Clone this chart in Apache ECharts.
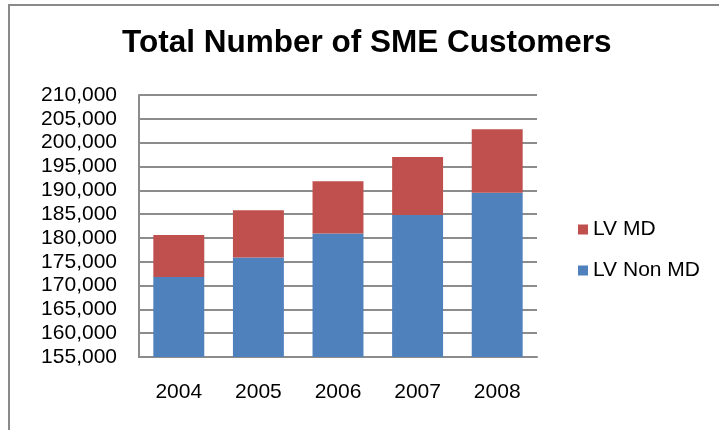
<!DOCTYPE html>
<html>
<head>
<meta charset="utf-8">
<script src="https://cdn.jsdelivr.net/npm/echarts@6/dist/echarts.min.js"></script>
<style>
  html, body { margin: 0; padding: 0; background: #ffffff; }
  #chart { width: 719px; height: 430px; }
</style>
</head>
<body>
<div id="chart"></div>
<script>
// Customer counts per year, split into the two low-voltage groups
const years = ['2004', '2005', '2006', '2007', '2008'];
const lvNonMd = [171800, 175900, 180900, 184800, 189500];
const lvMd = [8800, 9900, 11000, 12200, 13300];

// Value axis range
const yMin = 155000;
const yMax = 210000;
const yStep = 5000;

const FONT = '"Liberation Sans", Arial, sans-serif';
const LINE_GREY = '#8c8c8c';
const chart = echarts.init(document.getElementById('chart'), null, { renderer: 'canvas' });

chart.setOption({
  backgroundColor: '#ffffff',
  animation: false,
  title: {
    text: 'Total Number of SME Customers',
    left: 122,
    top: 28,
    padding: 0,
    textStyle: { fontFamily: FONT, fontSize: 31.5, fontWeight: 'bold', color: '#000000', lineHeight: 31 }
  },
  graphic: [{
    type: 'rect',
    shape: { x: 9, y: 5, width: 800, height: 500 },
    style: { fill: 'none', stroke: '#8a8a8a', lineWidth: 2 },
    silent: true
  }],
  legend: {
    orient: 'vertical',
    left: 578,
    top: 219,
    padding: 0,
    itemWidth: 10,
    itemHeight: 10,
    itemGap: 20,
    icon: 'rect',
    data: ['LV MD', 'LV Non MD'],
    textStyle: { fontFamily: FONT, fontSize: 21, color: '#000000', lineHeight: 21 }
  },
  grid: { left: 139, right: 182, top: 95, bottom: 73, containLabel: false },
  xAxis: {
    type: 'category',
    data: years,
    axisLine: { lineStyle: { color: LINE_GREY, width: 2 } },
    axisTick: { show: false },
    axisLabel: { fontFamily: FONT, fontSize: 21, color: '#000000', margin: 25, lineHeight: 21 }
  },
  yAxis: {
    type: 'value',
    min: yMin,
    max: yMax,
    interval: yStep,
    axisLine: { show: true, lineStyle: { color: LINE_GREY, width: 2 } },
    axisTick: { show: false },
    splitLine: { lineStyle: { color: LINE_GREY, width: 2 } },
    axisLabel: {
      fontFamily: FONT, fontSize: 21, color: '#000000', margin: 22,
      formatter: v => v.toLocaleString('en-US')
    }
  },
  series: [
    {
      name: 'LV Non MD',
      type: 'bar',
      stack: 'total',
      data: lvNonMd,
      barCategoryGap: '36%',
      itemStyle: { color: '#4F81BD' }
    },
    {
      name: 'LV MD',
      type: 'bar',
      stack: 'total',
      data: lvMd,
      barCategoryGap: '36%',
      itemStyle: { color: '#C0504D' }
    }
  ]
});
</script>
</body>
</html>
